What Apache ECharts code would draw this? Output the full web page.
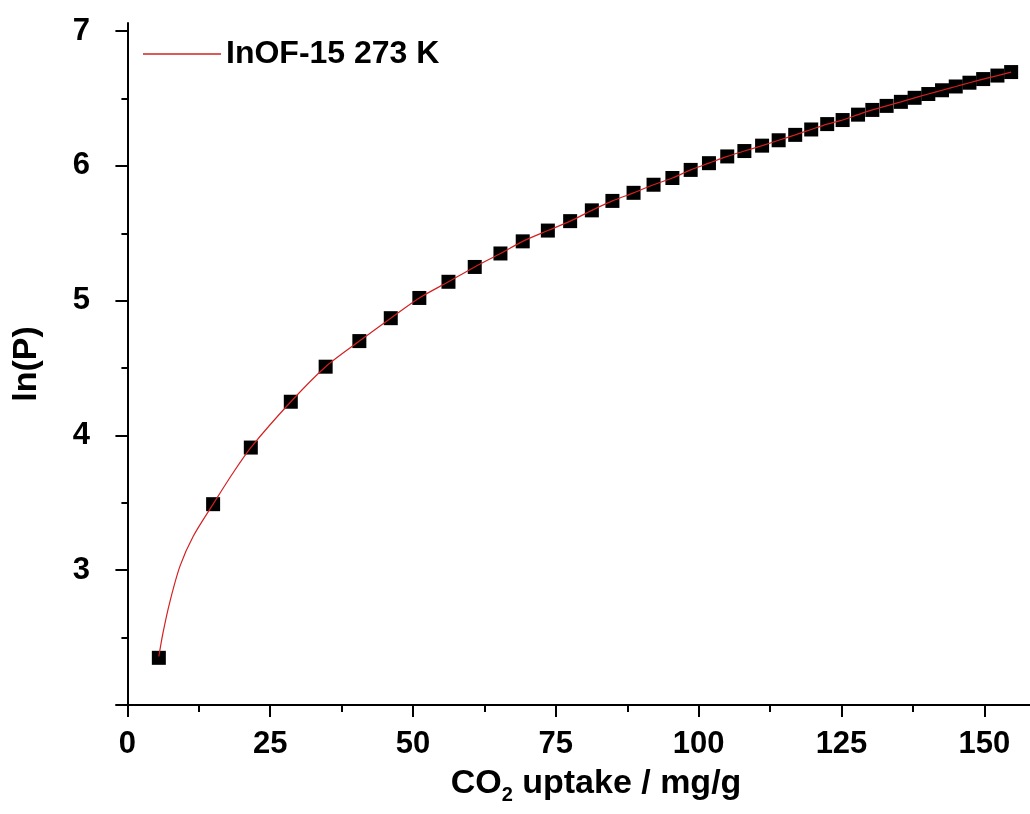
<!DOCTYPE html>
<html>
<head>
<meta charset="utf-8">
<script src="https://cdn.jsdelivr.net/npm/echarts@6/dist/echarts.min.js"></script>
<style>
  html, body { margin: 0; padding: 0; background: #fff; }
  #main { width: 1030px; height: 814px; }
</style>
</head>
<body>
<div id="main"></div>
<script>
// CO2 uptake (mg/g) vs ln(P)
var uptake = [5.5, 15.0, 21.6, 28.6, 34.7, 40.6, 46.1, 51.1, 56.2, 60.8,
  65.3, 69.2, 73.6, 77.5, 81.3, 84.9, 88.6, 92.1, 95.4, 98.6,
  101.8, 105.0, 108.0, 111.1, 114.0, 116.9, 119.7, 122.5, 125.2, 127.9,
  130.4, 132.9, 135.4, 137.8, 140.2, 142.6, 145.0, 147.4, 149.8, 152.3, 154.7];
var lnP = [2.35, 3.49, 3.91, 4.25, 4.51, 4.70, 4.87, 5.02, 5.14, 5.25,
  5.35, 5.44, 5.52, 5.59, 5.67, 5.74, 5.80, 5.86, 5.91, 5.97,
  6.02, 6.07, 6.11, 6.15, 6.19, 6.23, 6.27, 6.31, 6.34, 6.38,
  6.415, 6.445, 6.475, 6.505, 6.533, 6.561, 6.589, 6.617, 6.644, 6.670, 6.696];

// red fit curve (denser where it bends)
var fitX = [5.5, 6.2, 7.4, 9.2, 11.5, 15.0, 18.3, 21.6, 28.6, 34.7, 40.6, 46.1, 51.1, 56.2, 60.8,
  65.3, 69.2, 73.6, 77.5, 81.3, 84.9, 88.6, 92.1, 95.4, 98.6,
  101.8, 105.0, 108.0, 111.1, 114.0, 116.9, 119.7, 122.5, 125.2, 127.9,
  130.4, 132.9, 135.4, 137.8, 140.2, 142.6, 145.0, 147.4, 149.8, 152.3, 154.7];
var fitY = [2.36, 2.53, 2.76, 3.03, 3.25, 3.49, 3.71, 3.91, 4.25, 4.51, 4.70, 4.87, 5.02, 5.14, 5.25,
  5.35, 5.44, 5.52, 5.59, 5.67, 5.74, 5.80, 5.86, 5.91, 5.97,
  6.02, 6.07, 6.11, 6.15, 6.19, 6.23, 6.27, 6.31, 6.34, 6.38,
  6.415, 6.445, 6.475, 6.505, 6.533, 6.561, 6.589, 6.617, 6.644, 6.670, 6.696];

var xTicks = [0, 25, 50, 75, 100, 125, 150];
var xMinorTicks = [12.5, 37.5, 62.5, 87.5, 112.5, 137.5];
var yTicks = [3, 4, 5, 6, 7];
var yMinorTicks = [2.5, 3.5, 4.5, 5.5, 6.5];

var seriesName = "InOF-15 273 K";

var points = uptake.map(function (v, i) { return [v, lnP[i]]; });
var fitLine = fitX.map(function (v, i) { return [v, fitY[i]]; });

var font = "'Liberation Sans', Arial, sans-serif";

var myChart = echarts.init(document.getElementById("main"));
var option = {
  animation: false,
  backgroundColor: "#fff",
  legend: {
    data: [{ name: seriesName, icon: "rect" }],
    left: 143,
    top: 38,
    padding: 0,
    itemWidth: 78,
    itemHeight: 1.5,
    itemGap: 0,
    textStyle: { fontFamily: font, fontWeight: "bold", fontSize: 32, color: "#000" },
  },
  grid: {
    left: 116,
    right: 0,
    top: 23,
    bottom: 109,
    outerBoundsMode: "none",
  },
  xAxis: [
    {
      type: "value",
      min: -2,
      max: 158,
      position: "bottom",
      name: "CO{sub|2} uptake / mg/g",
      nameLocation: "middle",
      nameGap: 58,
      nameTextStyle: {
        fontFamily: font, fontWeight: "bold", fontSize: 34, color: "#000",
        padding: [0, 0, 0, 46],
        rich: {
          sub: { fontFamily: font, fontWeight: "bold", fontSize: 20, color: "#000", verticalAlign: "bottom", padding: [22, 0, 0, 0] },
        },
      },
      splitLine: { show: false },
      axisLine: { show: true, lineStyle: { color: "#000", width: 2 } },
      axisTick: { show: true, inside: false, length: 12, lineStyle: { color: "#000", width: 2 }, customValues: xTicks },
      axisLabel: { customValues: xTicks, margin: 24, fontFamily: font, fontWeight: "bold", fontSize: 31, color: "#000" },
    },
    {
      // minor ticks
      type: "value",
      min: -2,
      max: 158,
      position: "bottom",
      splitLine: { show: false },
      axisLine: { show: false },
      axisTick: { show: true, inside: false, length: 7, lineStyle: { color: "#000", width: 2 }, customValues: xMinorTicks },
      axisLabel: { show: false },
    },
  ],
  yAxis: [
    {
      type: "value",
      min: 2,
      max: 7.06,
      position: "left",
      name: "ln(P)",
      nameLocation: "middle",
      nameGap: 72,
      nameTextStyle: { fontFamily: font, fontWeight: "bold", fontSize: 34, color: "#000" },
      splitLine: { show: false },
      axisLine: { show: true, lineStyle: { color: "#000", width: 2 } },
      axisTick: { show: true, inside: false, length: 12, lineStyle: { color: "#000", width: 2 }, customValues: yTicks },
      axisLabel: { customValues: yTicks, margin: 26, fontFamily: font, fontWeight: "bold", fontSize: 31, color: "#000" },
    },
    {
      // minor ticks
      type: "value",
      min: 2,
      max: 7.06,
      position: "left",
      splitLine: { show: false },
      axisLine: { show: false },
      axisTick: { show: true, inside: false, length: 6, lineStyle: { color: "#000", width: 2 }, customValues: yMinorTicks },
      axisLabel: { show: false },
    },
  ],
  series: [
    {
      name: "data",
      type: "scatter",
      xAxisIndex: 0,
      yAxisIndex: 0,
      symbol: "rect",
      symbolSize: 14,
      itemStyle: { color: "#000", opacity: 1 },
      data: points,
      z: 2,
    },
    {
      name: seriesName,
      type: "line",
      xAxisIndex: 0,
      yAxisIndex: 0,
      smooth: 0.3,
      symbol: "none",
      lineStyle: { color: "#d42020", width: 1.2 },
      itemStyle: { color: "#d42020" },
      data: fitLine,
      z: 3,
    },
  ],
};
myChart.setOption(option);
</script>
</body>
</html>
